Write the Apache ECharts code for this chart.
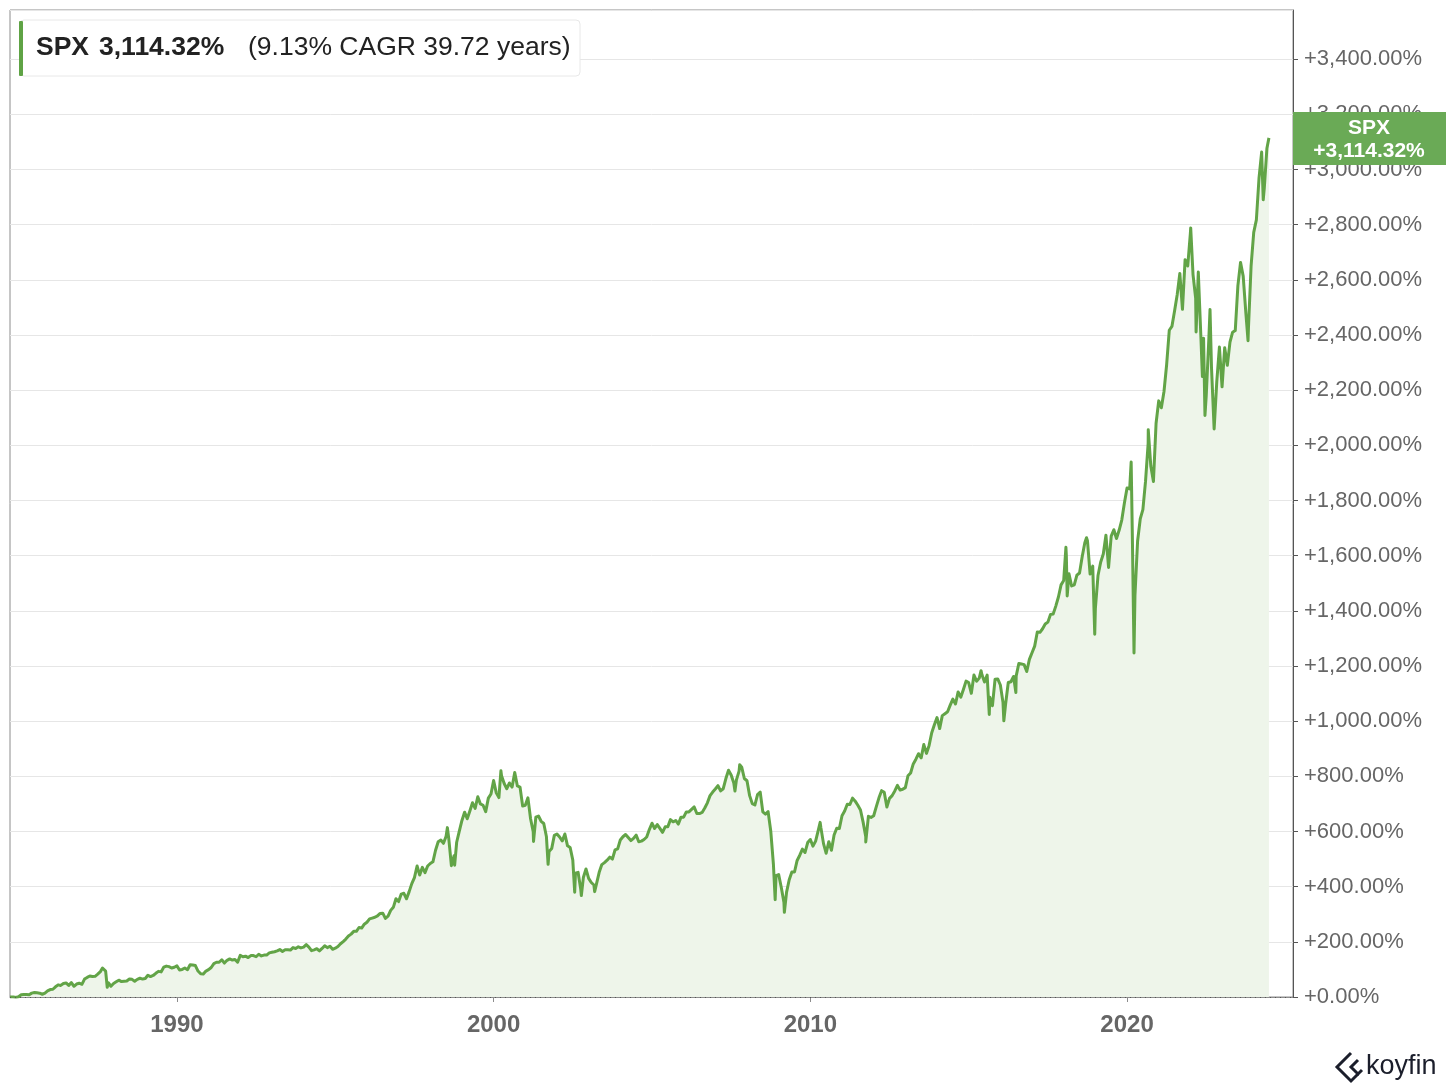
<!DOCTYPE html>
<html><head><meta charset="utf-8">
<script src="https://cdn.jsdelivr.net/npm/echarts@6/dist/echarts.min.js"></script>
<style>html,body{margin:0;padding:0;background:#fff}#c{width:1456px;height:1092px}</style>
</head><body><div id="c"></div>
<script>
const seriesName = 'SPX';
const totalReturnText = '3,114.32%';
const cagrText = '(9.13% CAGR 39.72 years)';
const badgeText = '+3,114.32%';
const xTickYears = [1990, 2000, 2010, 2020];
const startPoint = [1984.73, 0];
const endPoint = [2024.48, 3114.32];

// month-end cumulative return (%)
const pct1984_1989 = [
  0, 0, -2, 1,
  8, 9, 9, 8, 14, 16, 15, 14, 10, 14, 22, 27,
  28, 37, 44, 42, 49, 51, 42, 52, 39, 47, 50, 46,
  65, 71, 76, 74, 75, 83, 92, 99, 94, 52, 39, 49,
  55, 61, 56, 57, 58, 65, 64, 57, 64, 68, 65, 67,
  79, 74, 78, 86, 93, 91, 108, 112, 110, 105, 108, 113
];
const pct1990_1999 = [
  98, 100, 105, 99, 117, 116, 114, 94, 84, 83, 94, 99,
  107, 121, 126, 126, 135, 123, 133, 138, 134, 136, 126, 151,
  146, 148, 143, 150, 150, 146, 155, 149, 152, 152, 160, 162,
  164, 167, 172, 165, 171, 171, 170, 179, 176, 182, 178, 181,
  190, 181, 168, 171, 175, 167, 176, 186, 179, 184, 173, 177,
  183, 193, 201, 210, 221, 228, 238, 238, 252, 250, 264, 271,
  283, 286, 289, 294, 303, 304, 285, 293, 314, 325, 356, 346,
  373, 376, 356, 382, 411, 433, 475, 442, 470, 451, 475, 484,
  490, 532, 563, 569, 557, 583, 575, 476, 512, 561, 601, 640,
  670, 646, 674, 704, 684, 726, 700, 695, 672, 721, 736, 785
];
const pct2000_2009 = [
  740, 723, 802, 774, 755, 776, 761, 814, 765, 761, 692, 695,
  722, 646, 599, 652, 656, 637, 629, 582, 527, 538, 586, 591,
  580, 566, 591, 548, 542, 496, 449, 452, 391, 433, 464, 430,
  415, 406, 411, 452, 480, 487, 496, 507, 500, 533, 537, 569,
  581, 589, 578, 567, 575, 587, 563, 565, 571, 580, 607, 630,
  611, 625, 611, 597, 617, 617, 643, 635, 640, 627, 652, 652,
  671, 671, 680, 689, 665, 665, 669, 685, 704, 730, 743, 754,
  766, 747, 755, 792, 822, 805, 776, 787, 819, 833, 792, 784,
  730, 701, 696, 734, 743, 671, 663, 672, 602, 483, 440, 444,
  397, 343, 380, 425, 453, 453, 495, 514, 536, 524, 560, 571
];
const pct2010_2019 = [
  547, 565, 604, 614, 556, 521, 563, 532, 587, 612, 611, 657,
  674, 699, 698, 721, 710, 695, 678, 634, 581, 655, 651, 657,
  690, 722, 748, 742, 689, 720, 730, 747, 767, 750, 753, 759,
  802, 812, 845, 862, 882, 867, 915, 883, 912, 958, 987, 1013,
  973, 1020, 1027, 1034, 1058, 1080, 1062, 1106, 1087, 1115, 1145, 1140,
  1101, 1167, 1145, 1156, 1169, 1142, 1167, 1087, 1056, 1152, 1153, 1131,
  1068, 1063, 1140, 1143, 1162, 1164, 1209, 1207, 1205, 1180, 1224, 1248,
  1272, 1323, 1322, 1335, 1352, 1359, 1387, 1388, 1417, 1450, 1494, 1510,
  1600, 1534, 1490, 1494, 1529, 1537, 1596, 1647, 1654, 1533, 1562, 1409,
  1528, 1576, 1606, 1674, 1557, 1671, 1694, 1662, 1692, 1729, 1791, 1845
];
const pct2020_2024 = [
  1842, 1679, 1456, 1653, 1733, 1767, 1869, 2007, 1925, 1869, 2080, 2161,
  2136, 2195, 2292, 2417, 2431, 2487, 2546, 2623, 2493, 2673, 2650, 2769,
  2619, 2533, 2628, 2388, 2388, 2179, 2387, 2281, 2059, 2231, 2356, 2212,
  2354, 2290, 2374, 2410, 2416, 2579, 2663, 2614, 2482, 2425, 2650, 2772,
  2817, 2968, 3063, 2932, 3077
];
// intra-month highs / lows visible in the chart [decimal year, %]
const intraMonthExtremes = [
  [1987.65, 105], [1987.80, 35], [1998.54, 614], [1998.77, 478],
  [2000.23, 820], [2000.67, 816], [2001.26, 564], [2001.72, 481],
  [2002.56, 380], [2002.77, 368], [2003.19, 382], [2007.62, 747],
  [2007.77, 842], [2008.89, 353], [2009.18, 307], [2010.31, 633],
  [2010.50, 516], [2011.75, 562], [2015.39, 1183], [2015.65, 1024],
  [2016.11, 1001], [2016.49, 1104], [2018.07, 1630], [2018.11, 1454],
  [2018.72, 1665], [2018.98, 1315], [2019.42, 1552], [2020.13, 1939],
  [2020.22, 1247], [2020.67, 2056], [2022.01, 2788], [2022.18, 2411],
  [2022.38, 2249], [2022.46, 2108], [2022.62, 2492], [2022.78, 2053],
  [2023.82, 2379], [2024.30, 2890]
];

const blocks = [[1984, 9, pct1984_1989], [1990, 1, pct1990_1999], [2000, 1, pct2000_2009], [2010, 1, pct2010_2019], [2020, 1, pct2020_2024]];
const data = [startPoint];
blocks.forEach(([y, m, arr]) => arr.forEach((v, i) => data.push([y + (m + i) / 12, v])));
intraMonthExtremes.forEach(p => data.push(p));
data.push(endPoint);
data.sort((a, b) => a[0] - b[0]);

const fmtPct = v => '+' + Number(v).toLocaleString('en-US', {minimumFractionDigits: 2, maximumFractionDigits: 2}) + '%';
const FONT = '"Liberation Sans", Arial, Helvetica, sans-serif';
const lineColor = '#62a447';

const chart = echarts.init(document.getElementById('c'), null, {renderer: 'canvas'});
chart.setOption({
  animation: false,
  backgroundColor: '#ffffff',
  textStyle: {fontFamily: FONT},
  grid: {left: 10, right: 163, top: 10, bottom: 95, show: true, borderColor: '#8c8c8c', borderWidth: 1, backgroundColor: 'transparent'},
  xAxis: {
    type: 'value', min: 1984.73, max: 2025.24,
    splitLine: {show: false},
    axisLine: {show: true, lineStyle: {color: '#8c8c8c', width: 1}},
    axisTick: {show: true, customValues: xTickYears, length: 5, lineStyle: {color: '#8c8c8c'}},
    axisLabel: {customValues: xTickYears, formatter: v => String(Math.round(v)), fontSize: 24, fontWeight: 'bold', color: '#666', margin: 16, fontFamily: FONT}
  },
  yAxis: {
    type: 'value', position: 'right', min: 0, max: 3578, interval: 200,
    axisLine: {show: true, lineStyle: {color: '#555', width: 1}},
    axisTick: {show: true, length: 5, lineStyle: {color: '#555'}},
    axisLabel: {formatter: fmtPct, fontSize: 22, color: '#666', margin: 11, showMaxLabel: false, fontFamily: FONT},
    splitLine: {show: true, lineStyle: {color: '#e6e6e6', width: 1}}
  },
  series: [{
    name: seriesName, type: 'line', data: data, showSymbol: false, symbol: 'none',
    lineStyle: {color: lineColor, width: 3, join: 'round'},
    itemStyle: {color: lineColor},
    areaStyle: {color: '#eef5ea', opacity: 1},
    markLine: {silent: true, symbol: 'none', label: {show: false},
      lineStyle: {color: '#555', type: [1, 4], width: 1.2},
      data: [{yAxis: 0}]}
  }]
});

const yEnd = chart.convertToPixel({yAxisIndex: 0}, endPoint[1]);
chart.setOption({
  graphic: [
    {type: 'rect', shape: {x: 20, y: 20, width: 560, height: 56, r: 4}, style: {fill: '#fff', stroke: '#e8e8e8', lineWidth: 1}, z: 100},
    {type: 'rect', shape: {x: 19, y: 21, width: 4, height: 55, r: 1}, style: {fill: '#5fa345'}, z: 101},
    {type: 'text', x: 36, y: 48, style: {text: seriesName, font: 'bold 26.5px ' + FONT, fill: '#222', verticalAlign: 'middle'}, z: 101},
    {type: 'text', x: 99, y: 48, style: {text: totalReturnText, font: 'bold 26.5px ' + FONT, fill: '#222', verticalAlign: 'middle'}, z: 101},
    {type: 'text', x: 248, y: 48, style: {text: cagrText, font: '26.5px ' + FONT, fill: '#222', verticalAlign: 'middle'}, z: 101},
    {type: 'rect', shape: {x: 1293, y: yEnd - 26, width: 153, height: 53}, style: {fill: '#6aaa56'}, z: 100},
    {type: 'text', x: 1369, y: yEnd - 10, style: {text: seriesName, font: 'bold 21px ' + FONT, fill: '#fff', align: 'center', verticalAlign: 'middle'}, z: 101},
    {type: 'text', x: 1369, y: yEnd + 13, style: {text: badgeText, font: 'bold 21px ' + FONT, fill: '#fff', align: 'center', verticalAlign: 'middle'}, z: 101},
    {type: 'polyline', shape: {points: [[1351, 1053], [1337, 1067], [1351, 1081], [1358, 1074]]}, style: {stroke: '#1b1e2b', lineWidth: 3, fill: null}, z: 101},
    {type: 'polyline', shape: {points: [[1358, 1060], [1351, 1067], [1358, 1074], [1362, 1070]]}, style: {stroke: '#1b1e2b', lineWidth: 3, fill: null}, z: 101},
    {type: 'text', x: 1366, y: 1067, style: {text: 'koyfin', font: '500 27px ' + FONT, fill: '#1b1e2b', verticalAlign: 'middle'}, z: 101}
  ]
});
</script>
</body></html>
